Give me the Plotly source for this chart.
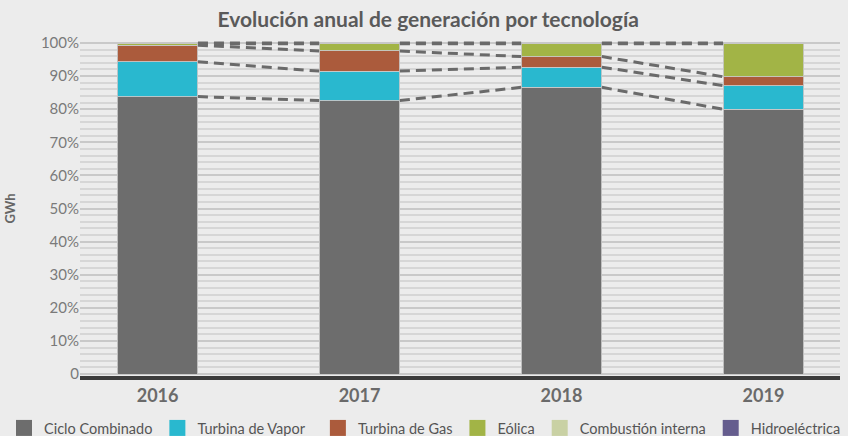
import plotly.graph_objects as go

years = ["2016", "2017", "2018", "2019"]
series_names = ["Ciclo Combinado", "Turbina de Vapor", "Turbina de Gas", "Eólica",
                "Combustión interna", "Hidroeléctrica"]
ciclo = [83.8, 82.6, 86.6, 80.0]
vapor = [10.5, 8.9, 6.1, 7.1]
gas = [5.0, 6.1, 3.2, 2.7]
eolica = [0.5, 2.2, 3.9, 10.0]
combustion = [0.1, 0.1, 0.1, 0.1]
hidro = [0.1, 0.1, 0.1, 0.1]
y_tick_vals = [0, 10, 20, 30, 40, 50, 60, 70, 80, 90, 100]
y_tick_text = ["0", "10%", "20%", "30%", "40%", "50%", "60%", "70%", "80%", "90%", "100%"]

colors = ["#6d6d6d", "#29b8cf", "#ab5b3c", "#a2b446", "#c9d1a4", "#655d8e"]
series = [ciclo, vapor, gas, eolica, combustion, hidro]
legend_ids = ["legend", "legend", "legend2", "legend2", "legend2", "legend2"]

FONT = "Lato"
BAR_W = 0.40
xs = list(range(len(years)))

fig = go.Figure()

for name, vals, col in zip(series_names, series, colors):
    fig.add_trace(go.Bar(
        x=xs, y=vals, name=name, width=BAR_W,
        marker=dict(color=col, line=dict(color="rgba(200,200,200,0.9)", width=1)),
        showlegend=False, hoverinfo="y+name",
    ))

# connector dashed lines between cumulative boundaries
cum = []
running = [0.0] * len(years)
for vals in series[:4]:
    running = [r + v for r, v in zip(running, vals)]
    cum.append(list(running))
total = [sum(s[i] for s in series) for i in range(len(years))]
cum.append(total)

for level in cum:
    for i in range(len(years) - 1):
        fig.add_trace(go.Scatter(
            x=[xs[i] + BAR_W / 2, xs[i + 1] - BAR_W / 2],
            y=[level[i], level[i + 1]],
            mode="lines",
            line=dict(color="#6a6a6a", width=3, dash="10px,6px"),
            showlegend=False, hoverinfo="skip", cliponaxis=False,
        ))

# legend entries
for name, col, lg in zip(series_names, colors, legend_ids):
    fig.add_trace(go.Scatter(
        x=[None], y=[None], mode="markers", name=name, legend=lg,
        marker=dict(symbol="square", size=16, color=col),
    ))

legend_common = dict(orientation="h", traceorder="normal",
                     xanchor="left", yref="container", y=(436 - 428) / 436,
                     yanchor="middle",
                     font=dict(family=FONT, size=14.5, color="#555555"),
                     bgcolor="rgba(0,0,0,0)", itemclick=False, tracegroupgap=0)

fig.update_layout(
    width=848, height=436,
    paper_bgcolor="#ececec", plot_bgcolor="#ececec",
    barmode="stack",
    margin=dict(l=80, r=8, t=41, b=60, pad=0),
    title=dict(text="<b>Evolución anual de generación por tecnología</b>",
               x=0.505, xanchor="center", yref="container", y=(436 - 20) / 436,
               yanchor="middle", automargin=False,
               font=dict(family=FONT, size=21, color="#5a5a5a")),
    font=dict(family=FONT, color="#777777"),
    showlegend=True,
    legend=dict(x=-0.1, **legend_common),
    legend2=dict(x=0.313, **legend_common),
    xaxis=dict(
        range=[-0.384, 3.379], tickvals=xs, ticktext=years,
        tickfont=dict(family=FONT, size=18, color="#6a6a6a", weight="bold"),
        showgrid=False, zeroline=False, automargin=False,
        showline=True, linecolor="#3c3c3c", linewidth=4,
        ticks="", fixedrange=True,
    ),
    yaxis=dict(
        range=[-0.6, 100.6], tickvals=y_tick_vals, ticktext=y_tick_text,
        tickfont=dict(family=FONT, size=15, color="#7a7a7a"), automargin=False,
        showgrid=True, gridcolor="#c9c9c9", gridwidth=2,
        minor=dict(dtick=2, showgrid=True, gridcolor="#d6d6d6", gridwidth=1.5),
        zeroline=False, ticks="", ticklen=0,
        title=dict(text="<b>GWh</b>", font=dict(family=FONT, size=13, color="#666666"),
                   standoff=22),
    ),
)

fig.write_html("out.html", config={"displayModeBar": False},
               post_script="document.body.style.margin='0';")
